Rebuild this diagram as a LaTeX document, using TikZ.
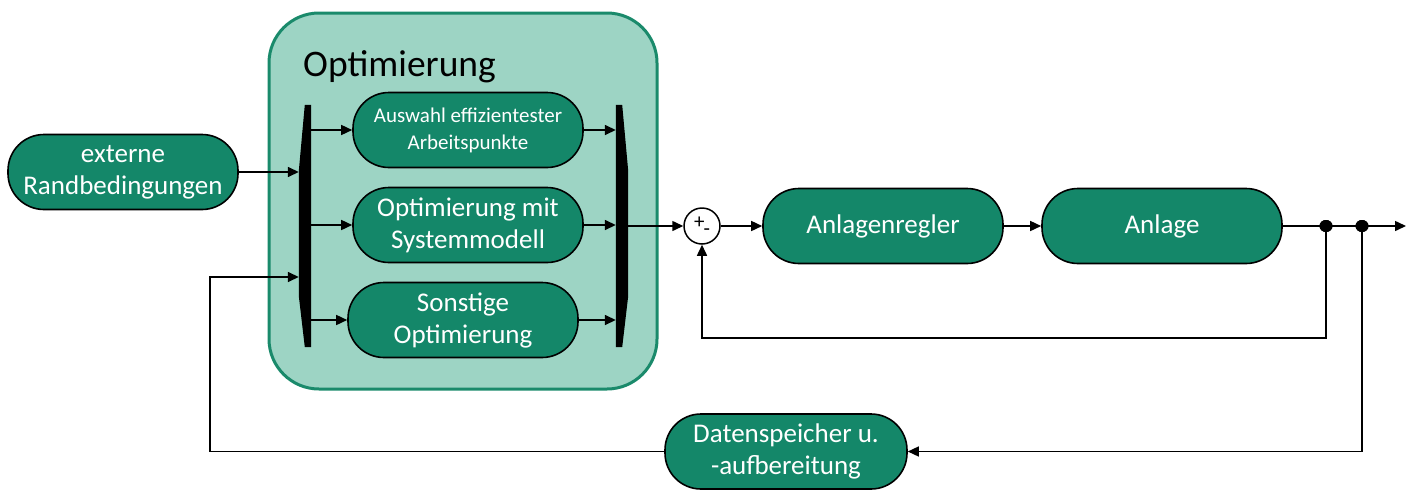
\documentclass[tikz,border=0pt]{standalone}
\usepackage{fontspec}
\setmainfont{Carlito}
\usetikzlibrary{arrows.meta,calc,shapes.geometric}
\definecolor{boxgreen}{RGB}{20,135,105}
\definecolor{contfill}{RGB}{157,212,196}
\definecolor{contline}{RGB}{26,138,107}
\tikzset{
  box/.style={draw=black, line width=1.6pt, fill=boxgreen, rounded corners=36pt,
    text=white, align=center, inner sep=0pt, minimum width=230pt, minimum height=75pt,
    font=\fontsize{27}{32}\selectfont},
  smallbox/.style={box, font=\fontsize{21}{27}\selectfont},
  conn/.style={line width=1.5pt, -{Triangle[length=11pt,width=10pt]}},
  line/.style={line width=1.5pt},
  dot/.style={fill=black, ellipse, minimum width=13pt, minimum height=12pt, inner sep=0pt},
  barnode/.style={inner sep=0pt, minimum width=12pt, minimum height=242pt},
}
\begin{document}
\begin{tikzpicture}[x=1pt,y=-1pt]
\useasboundingbox (0,0) rectangle (1413,490);
% container
\node[draw=contline, line width=3pt, fill=contfill, rounded corners=50pt,
      minimum width=388pt, minimum height=376pt, inner sep=0pt] (opt) at (463,201) {};
\node[anchor=base west, inner sep=0pt, font=\fontsize{37.5}{40}\selectfont] (title) at (303,76) {Optimierung};
% bars
\node[barnode] (lbar) at (305,226) {};
\node[barnode] (rbar) at (622,226) {};
\fill[black] (lbar.north east) -- ($(lbar.north west)+(6,0)$) -- ($(lbar.west)+(0,-55)$)
  -- ($(lbar.west)+(0,70)$) -- ($(lbar.south west)+(6,0)$) -- (lbar.south east) -- cycle;
\fill[black] (rbar.north west) -- ($(rbar.north east)+(-6,0)$) -- ($(rbar.east)+(0,-55)$)
  -- ($(rbar.east)+(0,70)$) -- ($(rbar.south east)+(-6,0)$) -- (rbar.south west) -- cycle;
% nodes
\node[box] (ext) at (123,172) {externe\\Randbedingungen};
\node[smallbox] (a1) at (468,130) {Auswahl effizientester\\Arbeitspunkte};
\node[box] (a2) at (468,225) {Optimierung mit\\Systemmodell};
\node[box] (a3) at (463,320) {Sonstige\\Optimierung};
\node[circle, draw=black, line width=1.5pt, fill=white, minimum size=36pt, inner sep=0pt,
      font=\fontsize{21}{21}\selectfont] (sum) at (702,226) {\raisebox{1pt}{+}\hspace{-1pt}\raisebox{-6pt}{-}};
\node[box, minimum width=240pt] (reg) at (883,226) {Anlagenregler};
\node[box, minimum width=240pt] (anl) at (1162,226) {Anlage};
\node[box, minimum width=242pt] (ds) at (786,451.5) {Datenspeicher u.\\-aufbereitung};
\node[dot] (d1) at (1326,226) {};
\node[dot] (d2) at (1362,226) {};
\coordinate (out) at (1406,226);
\coordinate (c1) at (1326,338);
\coordinate (c2) at (702,338);
\coordinate (c3) at (210,277);
% connectors
\draw[conn] (ext.east) -- (ext.east -| lbar.west);
\draw[conn] (ds.west) -| (c3) -- (c3 -| lbar.west);
\draw[conn] (lbar.east |- a1.west) -- (a1.west);
\draw[conn] (lbar.east |- a2.west) -- (a2.west);
\draw[conn] (lbar.east |- a3.west) -- (a3.west);
\draw[conn] (a1.east) -- (a1.east -| rbar.west);
\draw[conn] (a2.east) -- (a2.east -| rbar.west);
\draw[conn] (a3.east) -- (a3.east -| rbar.west);
\draw[conn] (rbar.east |- sum.west) -- (sum.west);
\draw[conn] (sum.east) -- (reg.west);
\draw[conn] (reg.east) -- (anl.west);
\draw[line] (anl.east) -- (d1.center) -- (d2.center);
\draw[conn] (d2.center) -- (out);
\draw[conn] (d1.center) -- (c1) -- (c2) -- (sum.south);
\draw[conn] (d2.center) |- (ds.east);
\node[dot] at (d1) {};
\node[dot] at (d2) {};
\end{tikzpicture}
\end{document}
